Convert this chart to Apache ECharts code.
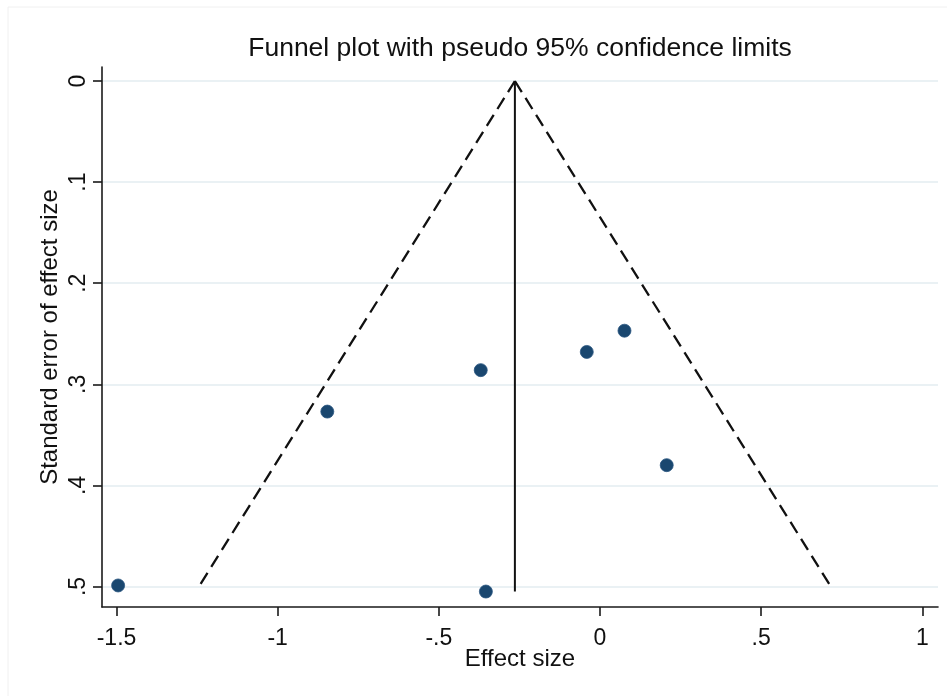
<!DOCTYPE html>
<html>
<head>
<meta charset="utf-8">
<script src="https://cdn.jsdelivr.net/npm/echarts@6/dist/echarts.min.js"></script>
<style>
  html, body { margin: 0; padding: 0; background: #fff; }
  #chart { width: 947px; height: 696px; }
</style>
</head>
<body>
<div id="chart"></div>
<script>
// Study estimates: effect size and its standard error
const effectSize    = [-1.495, -0.846, -0.370, -0.041, 0.076, 0.207, -0.354];
const standardError = [0.499, 0.327, 0.286, 0.268, 0.247, 0.380, 0.505];

// Pooled estimate (solid line) and pseudo 95% limits (dashed lines)
const pooledEffect = [-0.264, -0.264];
const pooledSE     = [0, 0.505];
const limitSE      = [0, 0.5];
const lowerLimit   = [-0.264, -1.244];
const upperLimit   = [-0.264, 0.716];

// Axis tick positions
const xTicks = [-1.5, -1, -0.5, 0, 0.5, 1];
const yTicks = [0, 0.1, 0.2, 0.3, 0.4, 0.5];

const FONT = '"Liberation Sans", Arial, sans-serif';
const INK = '#111111';

// Labels without a leading zero: -.5, .1, ...
const shortNum = v => String(+v.toFixed(3)).replace(/^(-?)0\./, '$1.');
const pairs = (xs, ys) => xs.map((x, i) => [x, ys[i]]);

const chart = echarts.init(document.getElementById('chart'), null, { renderer: 'canvas' });

chart.setOption({
  backgroundColor: '#ffffff',
  animation: false,
  title: {
    text: 'Funnel plot with pseudo 95% confidence limits',
    left: 520,
    top: 35,
    textAlign: 'center',
    padding: 0,
    textStyle: { fontFamily: FONT, fontSize: 26.5, fontWeight: 'normal', color: INK }
  },
  graphic: [{
    type: 'rect',
    silent: true,
    z: -10,
    shape: { x: 8, y: 7, width: 980, height: 720 },
    style: { fill: 'none', stroke: '#f0f0f0', lineWidth: 1 }
  }],
  grid: { left: 102, top: 67, right: 9, bottom: 89, containLabel: false },
  xAxis: {
    type: 'value',
    min: -1.545,
    max: 1.0487,
    name: 'Effect size',
    nameLocation: 'middle',
    nameGap: 40,
    nameMoveOverlap: false,
    nameTextStyle: { fontFamily: FONT, fontSize: 24, color: INK },
    axisLine: { show: true, onZero: false, lineStyle: { color: '#1a1a1a', width: 1.6 } },
    axisTick: { show: true, length: 9, customValues: xTicks, lineStyle: { color: '#1a1a1a', width: 1.6 } },
    axisLabel: {
      customValues: xTicks,
      margin: 20,
      fontFamily: FONT, fontSize: 23, color: INK,
      formatter: shortNum
    },
    splitLine: { show: false }
  },
  yAxis: {
    type: 'value',
    inverse: true,
    min: -0.01385,
    max: 0.5203,
    name: 'Standard error of effect size',
    nameLocation: 'middle',
    nameGap: 40,
    nameMoveOverlap: false,
    nameTextStyle: { fontFamily: FONT, fontSize: 24, color: INK },
    axisLine: { show: true, onZero: false, lineStyle: { color: '#1a1a1a', width: 1.6 } },
    axisTick: { show: true, length: 9, customValues: yTicks, lineStyle: { color: '#1a1a1a', width: 1.6 } },
    axisLabel: {
      customValues: yTicks,
      rotate: 90,
      margin: 12,
      fontFamily: FONT, fontSize: 23, color: INK,
      formatter: shortNum
    },
    splitLine: { show: true, lineStyle: { color: '#e3ecf0', width: 1.6 } }
  },
  series: [
    {
      name: 'Lower limit',
      type: 'line',
      data: pairs(lowerLimit, limitSE),
      symbol: 'none',
      lineStyle: { color: INK, width: 2.3, type: [13, 7] },
      z: 2
    },
    {
      name: 'Upper limit',
      type: 'line',
      data: pairs(upperLimit, limitSE),
      symbol: 'none',
      lineStyle: { color: INK, width: 2.3, type: [13, 7] },
      z: 2
    },
    {
      name: 'Pooled',
      type: 'line',
      data: pairs(pooledEffect, pooledSE),
      symbol: 'none',
      lineStyle: { color: INK, width: 2 },
      z: 2
    },
    {
      name: 'Studies',
      type: 'scatter',
      data: pairs(effectSize, standardError),
      symbol: 'circle',
      symbolSize: 13,
      itemStyle: { color: '#1a476f', opacity: 1, borderColor: '#2a5680', borderWidth: 0.8 },
      z: 3
    }
  ]
});
</script>
</body>
</html>
